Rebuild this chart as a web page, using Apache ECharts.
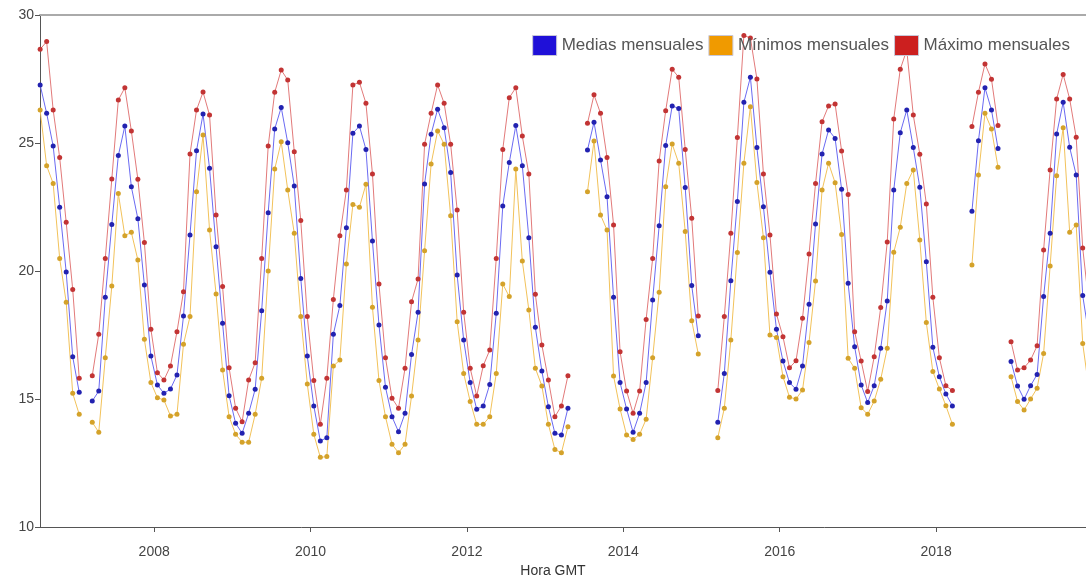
<!DOCTYPE html>
<html>
<head>
<meta charset="utf-8">
<script src="https://cdn.jsdelivr.net/npm/echarts@6/dist/echarts.min.js"></script>
<style>
html,body{margin:0;padding:0;background:#fff;}
#chart{width:1086px;height:577px;}
</style>
</head>
<body>
<div id="chart"></div>
<script>
// First month of the series (monthly values, one per month, null = no data)
const firstYear = 2006;
const firstMonth = 7; // July
const yearTicks = [2008, 2010, 2012, 2014, 2016, 2018];
const seriesNames = ['Medias mensuales', 'Mínimos mensuales', 'Máximo mensuales'];

const medias = [
27.27,26.16,24.88,22.49,19.96,16.65,15.26,null,14.92,15.31,18.97,21.82,
24.51,25.66,23.29,22.04,19.45,16.68,15.55,15.22,15.39,15.94,18.24,21.41,
24.70,26.13,24.01,20.95,17.96,15.13,14.05,13.66,14.44,15.38,18.45,22.28,
25.55,26.39,25.01,23.32,19.71,16.68,14.73,13.36,13.49,17.53,18.65,21.69,
25.38,25.66,24.75,21.17,17.89,15.46,14.31,13.72,14.44,16.74,18.39,23.40,
25.34,26.32,25.60,23.85,19.84,17.30,15.64,14.60,14.73,15.57,18.35,22.54,
24.24,25.68,24.11,21.30,17.80,16.09,14.70,13.66,13.59,14.64,null,null,
24.73,25.81,24.34,22.90,18.97,15.64,14.61,13.70,14.44,15.64,18.87,21.77,
24.90,26.45,26.35,23.26,19.43,17.47,null,null,14.09,16.00,19.62,22.71,
26.59,27.57,24.82,22.51,19.95,17.72,16.48,15.64,15.38,16.29,18.70,21.84,
24.57,25.51,25.18,23.19,19.52,17.04,15.55,14.86,15.52,16.98,18.83,23.16,
25.40,26.29,24.82,23.27,20.36,17.02,15.87,15.20,14.73,null,null,22.33,
25.09,27.16,26.29,24.79,null,16.46,15.51,14.99,15.52,15.96,19.00,21.47,
25.35,26.59,24.83,23.75,19.04,17.40
];

const minimos = [
26.29,24.11,23.42,20.49,18.78,15.22,14.40,null,14.09,13.70,16.61,19.41,
23.03,21.38,21.51,20.43,17.33,15.64,15.05,14.96,14.34,14.40,17.14,18.22,
23.10,25.31,21.60,19.10,16.13,14.31,13.62,13.31,13.31,14.40,15.81,20.00,
23.98,25.05,23.16,21.47,18.22,15.59,13.62,12.72,12.75,16.29,16.52,20.27,
22.60,22.49,23.39,18.58,15.72,14.31,13.23,12.90,13.23,15.12,17.30,20.79,
24.18,25.47,24.95,22.16,18.02,16.00,14.90,14.01,14.01,14.31,16.00,19.49,
19.00,23.98,20.39,18.48,16.20,15.51,14.01,13.03,12.90,13.92,null,null,
23.10,25.08,22.19,21.60,15.90,14.61,13.59,13.42,13.62,14.21,16.61,19.17,
23.29,24.96,24.21,21.54,18.06,16.76,null,null,13.49,14.64,17.30,20.72,
24.21,26.42,23.46,21.30,17.50,17.40,15.87,15.07,15.00,15.35,17.21,19.61,
23.16,24.21,23.45,21.43,16.59,16.20,14.66,14.40,14.92,15.77,16.98,20.73,
21.71,23.42,23.95,21.21,17.99,16.07,15.39,14.74,14.01,null,null,20.23,
23.75,26.16,25.55,24.05,null,15.87,14.90,14.57,15.00,15.42,16.78,20.20,
23.72,25.60,21.51,21.80,17.17,15.30
];

const maximos = [
28.66,28.96,26.29,24.43,21.90,19.28,15.81,null,15.91,17.53,20.49,23.59,
26.68,27.16,25.47,23.58,21.11,17.72,16.03,15.74,16.29,17.63,19.19,24.57,
26.29,26.99,26.09,22.19,19.39,16.22,14.64,14.11,15.74,16.42,20.49,24.88,
26.98,27.85,27.46,24.66,21.97,18.22,15.72,14.01,15.81,18.89,21.38,23.16,
27.27,27.37,26.55,23.79,19.49,16.61,15.03,14.64,16.20,18.80,19.69,24.95,
26.16,27.27,26.55,24.95,22.38,18.39,16.20,15.12,16.30,16.91,20.49,24.75,
26.77,27.16,25.27,23.79,19.09,17.11,15.74,14.31,14.73,15.91,null,null,
25.77,26.88,26.16,24.43,21.80,16.85,15.31,14.44,15.31,18.11,20.49,24.30,
26.26,27.88,27.57,24.75,22.06,18.24,null,null,15.33,18.22,21.47,25.21,
29.20,29.10,27.50,23.79,21.41,18.32,17.43,16.22,16.49,18.15,20.66,23.42,
25.83,26.45,26.52,24.69,22.99,17.63,16.48,15.29,16.65,18.57,21.13,25.94,
27.88,28.63,26.09,24.56,22.62,18.97,16.61,15.52,15.33,null,null,25.64,
26.98,28.09,27.49,25.68,null,17.24,16.13,16.22,16.52,17.08,20.82,23.95,
26.72,27.68,26.72,25.22,20.90,18.60
];

// mid-month position of the i-th monthly value, in decimal years
function monthPos(i) {
  return firstYear + (firstMonth - 1 + i + 0.5) / 12;
}
function toPairs(arr) {
  return arr.map((v, i) => [monthPos(i), v]);
}

const font = 'Liberation Sans, Arial, sans-serif';
const xMin = 2006.54, xMax = 2019.917;

const chart = echarts.init(document.getElementById('chart'), null, {renderer: 'canvas'});
chart.setOption({
  animation: false,
  backgroundColor: '#fff',
  textStyle: {fontFamily: font},
  grid: {left: 40, right: 0, top: 15, bottom: 50, containLabel: false, outerBoundsMode: 'none'},
  legend: {
    top: 30, right: 11,
    icon: 'rect', itemWidth: 24, itemHeight: 20, itemGap: 5,
    textStyle: {fontSize: 17, color: '#555', fontFamily: font},
    itemStyle: {borderColor: '#c8c8d8', borderWidth: 1},
    data: [
      {name: seriesNames[0], itemStyle: {color: '#1f10d8'}},
      {name: seriesNames[1], itemStyle: {color: '#f09a00'}},
      {name: seriesNames[2], itemStyle: {color: '#cc1f1f'}}
    ]
  },
  xAxis: [{
    type: 'value', min: xMin, max: xMax,
    name: 'Hora GMT', nameLocation: 'middle', nameGap: 33,
    nameTextStyle: {fontSize: 14, color: '#333', padding: [0, 20, 0, 0]},
    axisLine: {lineStyle: {color: '#555', width: 1}},
    axisTick: {show: true, customValues: yearTicks, length: 5, lineStyle: {color: '#555'}},
    axisLabel: {customValues: yearTicks, color: '#444', fontSize: 14, margin: 18,
      formatter: v => String(Math.round(v))},
    splitLine: {show: false}
  }, {
    type: 'value', min: xMin, max: xMax, position: 'top',
    axisLine: {show: true, onZero: false, lineStyle: {color: '#aaa', width: 2}},
    axisTick: {show: false}, axisLabel: {show: false}, splitLine: {show: false}
  }],
  yAxis: {
    type: 'value', min: 10, max: 30, interval: 5,
    axisLine: {show: true, lineStyle: {color: '#555'}},
    axisTick: {show: true, length: 5, lineStyle: {color: '#555'}},
    axisLabel: {color: '#444', fontSize: 14, margin: 6, padding: [4, 0, 0, 0]},
    splitLine: {show: false}
  },
  series: [
    {name: seriesNames[0], type: 'line', data: toPairs(medias), connectNulls: false,
     symbol: 'circle', symbolSize: 5, clip: true,
     lineStyle: {color: '#6a6af2', width: 1},
     itemStyle: {color: '#2222b0'}},
    {name: seriesNames[1], type: 'line', data: toPairs(minimos), connectNulls: false,
     symbol: 'circle', symbolSize: 5, clip: true,
     lineStyle: {color: '#f2c25a', width: 1},
     itemStyle: {color: '#d4a22a'}},
    {name: seriesNames[2], type: 'line', data: toPairs(maximos), connectNulls: false,
     symbol: 'circle', symbolSize: 5, clip: true,
     lineStyle: {color: '#e27a7a', width: 1},
     itemStyle: {color: '#c23434'}}
  ]
});
</script>
</body>
</html>
